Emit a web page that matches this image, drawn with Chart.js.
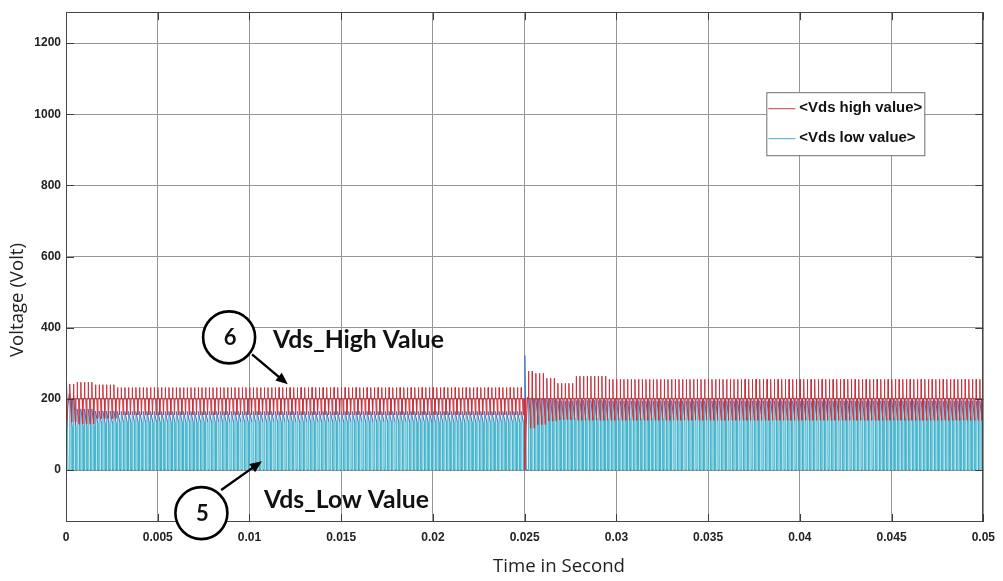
<!DOCTYPE html>
<html>
<head>
<meta charset="utf-8">
<script src="https://cdn.jsdelivr.net/npm/chart.js@4.4.1/dist/chart.umd.min.js"></script>
<style>
  html, body { margin: 0; padding: 0; background: #fff; }
  #wrap { width: 1003px; height: 581px; position: relative; }
</style>
</head>
<body>
<div id="wrap"><canvas id="vdsChart"></canvas></div>
<script>
// switching period of both traces (s) and end of the run
const period = 0.0002;
const tEnd = 0.05;

// envelope: each column holds from segStart until the next one
const segStart  = [0,     0.0006, 0.0016, 0.0028, 0.025, 0.0256, 0.0262, 0.0268, 0.0278, 0.0296];
const highPeak  = [242,   247,    240,    232,    278,   272,    258,    244,    264,    255];
const highBase  = [200,   200,    200,    200,    200,   200,    200,    200,    200,    200];
const highDip   = [135,   130,    145,    155,    118,   128,    138,    142,    140,    140];
const lowPeak   = [215,   172,    166,    165,    205,   200,    198,    195,    196,    195];
const lowValley = [122,   125,    132,    135,    150,   150,    148,    145,    145,    145];

// transients at switch-on and at the 0.025 s step
const highEventT = [0, 0.00003, 0.0001, 0.00018, 0.025, 0.02501, 0.02508, 0.02516];
const highEventV = [0, 112, 180, 215, 200, 0, 120, 205];
const lowEventT  = [0, 0.00002, 0.00008, 0.00011, 0.025, 0.02501, 0.02506, 0.0251];
const lowEventV  = [0, 266, 140, 0, 0, 322, 150, 0];

// axes
const xTicks = [0, 0.005, 0.01, 0.015, 0.02, 0.025, 0.03, 0.035, 0.04, 0.045, 0.05];
const xTickLabels = ['0', '0.005', '0.01', '0.015', '0.02', '0.025', '0.03', '0.035', '0.04', '0.045', '0.05'];
const yTicks = [0, 200, 400, 600, 800, 1000, 1200];
const yMin = -146, yMax = 1287;

// callouts on the plot (data units)
const callouts = [
  { num: '6', cx: 0.00889, cy: 373, text: 'Vds_High Value', tx: 0.01128, ty: 365, tw: 171,
    from: [0.01014, 325], to: [0.01209, 241] },
  { num: '5', cx: 0.00738, cy: -121, text: 'Vds_Low Value', tx: 0.01079, ty: -84, tw: 165,
    from: [0.00846, -56], to: [0.01068, 25] }
];

const highColor = 'rgb(205,50,60)';
const lowColor = 'rgb(70,180,205)';

function segIndex(t) {
  let k = 0;
  for (let i = 0; i < segStart.length; i++) if (segStart[i] <= t + 1e-9) k = i;
  return k;
}

function hasEvent(times, t0) {
  return times.some(t => t >= t0 - 1e-9 && t < t0 + period - 1e-9);
}

function buildHigh() {
  const pts = highEventT.map((t, i) => ({ x: t, y: highEventV[i] }));
  const n = Math.round(tEnd / period);
  for (let c = 0; c < n; c++) {
    const t0 = c * period;
    if (hasEvent(highEventT, t0)) continue;
    const k = segIndex(t0);
    const b = highBase[k];
    pts.push({ x: t0, y: b });
    pts.push({ x: t0 + 0.05 * period, y: highPeak[k] });
    pts.push({ x: t0 + 0.14 * period, y: b });
    pts.push({ x: t0 + 0.42 * period, y: b });
    pts.push({ x: t0 + 0.56 * period, y: highDip[k] });
    pts.push({ x: t0 + 0.72 * period, y: b });
  }
  pts.push({ x: tEnd, y: highBase[highBase.length - 1] });
  return pts.sort((a, b) => a.x - b.x);
}

function buildLow() {
  const pts = lowEventT.map((t, i) => ({ x: t, y: lowEventV[i] }));
  const n = Math.round(tEnd / period);
  for (let c = 0; c < n; c++) {
    const t0 = c * period;
    if (hasEvent(lowEventT, t0)) continue;
    const k = segIndex(t0);
    pts.push({ x: t0, y: 0 });
    pts.push({ x: t0 + 0.03 * period, y: lowPeak[k] });
    pts.push({ x: t0 + 0.66 * period, y: lowValley[k] });
    pts.push({ x: t0 + 0.70 * period, y: 0 });
  }
  pts.push({ x: tEnd, y: 0 });
  return pts.sort((a, b) => a.x - b.x);
}

function fitFont(ctx, text, weight, family, width) {
  ctx.font = `${weight} 20px ${family}`;
  const w = ctx.measureText(text).width;
  return `${weight} ${(20 * width / w).toFixed(2)}px ${family}`;
}

const decor = {
  id: 'decor',
  afterDraw(chart) {
    const { ctx, chartArea: a, scales: { x, y } } = chart;
    const tickLen = 8;
    ctx.save();

    // inward tick marks and the box
    ctx.strokeStyle = 'rgb(60,60,60)';
    ctx.lineWidth = 1;
    ctx.beginPath();
    yTicks.forEach(v => {
      const py = Math.round(y.getPixelForValue(v)) + 0.5;
      ctx.moveTo(a.left, py); ctx.lineTo(a.left + tickLen, py);
      ctx.moveTo(a.right - tickLen, py); ctx.lineTo(a.right, py);
    });
    xTicks.forEach(v => {
      const px = Math.round(x.getPixelForValue(v)) + 0.5;
      ctx.moveTo(px, a.bottom); ctx.lineTo(px, a.bottom - tickLen);
      ctx.moveTo(px, a.top); ctx.lineTo(px, a.top + tickLen);
    });
    ctx.stroke();
    ctx.strokeStyle = 'rgb(70,70,70)';
    ctx.strokeRect(Math.round(a.left) + 0.5, Math.round(a.top) + 0.5,
      Math.round(a.width) - 1, Math.round(a.height) - 1);

    // legend box in the upper right
    const lx = a.right - 217, ly = a.top + 80, lw = 158, lh = 63;
    ctx.fillStyle = '#fff';
    ctx.fillRect(lx, ly, lw, lh);
    ctx.strokeStyle = 'rgb(110,110,110)';
    ctx.strokeRect(lx + 0.5, ly + 0.5, lw, lh);
    const items = [
      { label: chart.data.datasets[0].label, color: 'rgb(200,60,60)', dy: 16 },
      { label: chart.data.datasets[1].label, color: 'rgb(70,170,210)', dy: 46 }
    ];
    ctx.font = fitFont(ctx, items[0].label, 'bold', '"Liberation Sans", Arial, sans-serif', 123);
    ctx.textBaseline = 'middle';
    ctx.textAlign = 'left';
    items.forEach(it => {
      ctx.strokeStyle = it.color;
      ctx.lineWidth = 1;
      ctx.beginPath();
      ctx.moveTo(lx + 2, ly + it.dy + 0.5);
      ctx.lineTo(lx + 29, ly + it.dy + 0.5);
      ctx.stroke();
      ctx.fillStyle = '#111';
      ctx.fillText(it.label, lx + 33, ly + it.dy);
    });

    // numbered callouts with arrows
    callouts.forEach(c => {
      const cx = x.getPixelForValue(c.cx), cy = y.getPixelForValue(c.cy);
      ctx.beginPath();
      ctx.arc(cx, cy, 26, 0, Math.PI * 2);
      ctx.fillStyle = '#fff';
      ctx.fill();
      ctx.lineWidth = 2.6;
      ctx.strokeStyle = '#000';
      ctx.stroke();
      ctx.fillStyle = '#111';
      ctx.font = 'bold 22px Lato, sans-serif';
      ctx.textAlign = 'center';
      ctx.textBaseline = 'middle';
      ctx.fillText(c.num, cx + 1, cy + 1);

      const x0 = x.getPixelForValue(c.from[0]), y0 = y.getPixelForValue(c.from[1]);
      const x1 = x.getPixelForValue(c.to[0]), y1 = y.getPixelForValue(c.to[1]);
      const ang = Math.atan2(y1 - y0, x1 - x0);
      ctx.lineWidth = 2.4;
      ctx.beginPath();
      ctx.moveTo(x0, y0);
      ctx.lineTo(x1 - 9 * Math.cos(ang), y1 - 9 * Math.sin(ang));
      ctx.stroke();
      ctx.beginPath();
      ctx.moveTo(x1, y1);
      ctx.lineTo(x1 - 12 * Math.cos(ang) + 5 * Math.sin(ang), y1 - 12 * Math.sin(ang) - 5 * Math.cos(ang));
      ctx.lineTo(x1 - 12 * Math.cos(ang) - 5 * Math.sin(ang), y1 - 12 * Math.sin(ang) + 5 * Math.cos(ang));
      ctx.closePath();
      ctx.fillStyle = '#000';
      ctx.fill();

      ctx.font = fitFont(ctx, c.text, 'bold', 'Lato, sans-serif', c.tw);
      ctx.textAlign = 'left';
      ctx.fillStyle = '#111';
      ctx.fillText(c.text, x.getPixelForValue(c.tx), y.getPixelForValue(c.ty));
    });

    // axis titles
    ctx.font = fitFont(ctx, 'Time in Second', 'normal', '"Open Sans", sans-serif', 132);
    ctx.fillStyle = '#222';
    ctx.textAlign = 'center';
    ctx.textBaseline = 'middle';
    ctx.fillText('Time in Second', 559, 567);
    ctx.translate(18, 300);
    ctx.rotate(-Math.PI / 2);
    ctx.fillText('Voltage (Volt)', 0, 0);

    ctx.restore();
  }
};

const tickFont = { family: '"Liberation Sans", Arial, sans-serif', size: 12, weight: 'bold' };

new Chart(document.getElementById('vdsChart'), {
  type: 'line',
  data: {
    datasets: [
      {
        label: '<Vds high value>',
        data: buildHigh(),
        borderColor: highColor,
        backgroundColor: 'rgba(210,80,100,0.55)',
        borderWidth: 1,
        pointRadius: 0,
        fill: { value: 200 },
        order: 0,
        segment: {
          borderColor: s => (s.p0.parsed.y === s.p1.parsed.y ? 'rgb(165,30,45)' : highColor)
        }
      },
      {
        label: '<Vds low value>',
        data: buildLow(),
        borderColor: lowColor,
        backgroundColor: 'rgba(120,200,215,0.55)',
        borderWidth: 1,
        pointRadius: 0,
        fill: 'origin',
        order: 1,
        segment: {
          borderColor: s => {
            const a = s.p0.parsed.y, b = s.p1.parsed.y;
            if (a > 60 && b > 60) return 'rgb(75,100,195)';
            if (a === 0 && b === 0) return 'rgb(55,95,135)';
            return lowColor;
          }
        }
      }
    ]
  },
  options: {
    animation: false,
    responsive: true,
    maintainAspectRatio: false,
    parsing: false,
    normalized: true,
    layout: { padding: { top: 11, right: 15, left: 0, bottom: 0 } },
    plugins: {
      legend: { display: false },
      tooltip: { enabled: false }
    },
    scales: {
      x: {
        type: 'linear',
        min: 0,
        max: tEnd,
        afterBuildTicks: s => { s.ticks = xTicks.map(v => ({ value: v })); },
        afterFit: s => { s.height = 59; },
        ticks: {
          font: tickFont,
          color: '#222',
          padding: 8,
          maxRotation: 0,
          autoSkip: false,
          callback: (v, i) => xTickLabels[i]
        },
        grid: { color: 'rgb(150,150,150)', drawTicks: false },
        border: { display: false }
      },
      y: {
        min: yMin,
        max: yMax,
        afterBuildTicks: s => { s.ticks = yTicks.map(v => ({ value: v })); },
        afterFit: s => { s.width = 66; },
        ticks: {
          font: tickFont,
          color: '#222',
          padding: 5,
          callback: v => String(v)
        },
        grid: { color: 'rgb(150,150,150)', drawTicks: false },
        border: { display: false }
      }
    }
  },
  plugins: [decor]
});
</script>
</body>
</html>
